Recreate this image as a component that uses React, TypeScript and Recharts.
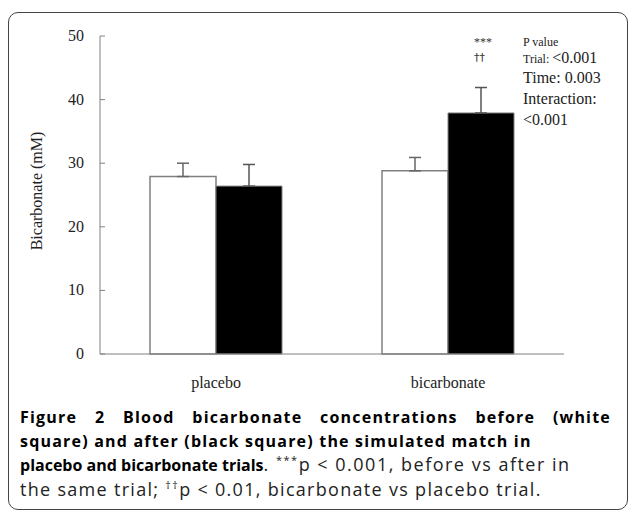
import React from "react";
import { BarChart, Bar, XAxis, YAxis, ErrorBar } from "recharts";

const TRIALS = ["placebo", "bicarbonate"];
const BEFORE = [27.9, 28.8];
const AFTER = [26.4, 37.9];
const BEFORE_ERR = [2.1, 2.1];
const AFTER_ERR = [3.4, 4.0];
const Y_TICKS = [0, 10, 20, 30, 40, 50];

const data = TRIALS.map((t, i) => ({
  trial: t,
  before: BEFORE[i],
  after: AFTER[i],
  beforeErr: [0, BEFORE_ERR[i]],
  afterErr: [0, AFTER_ERR[i]],
}));

const SERIF = "'Liberation Serif', 'Times New Roman', serif";
const SANS = "'Open Sans', 'Noto Sans', sans-serif";

// y ticks in the original point inward, so draw the tick line ourselves
const InnerTick = (props: any) => {
  const { x, y, payload } = props;
  return (
    <g>
      <line x1={x + 16} y1={y} x2={x + 21} y2={y} stroke="#808080" strokeWidth={1} />
      <text x={x} y={y} dy={5} textAnchor="end" fontFamily={SERIF} fontSize={16} fill="#222">
        {payload.value}
      </text>
    </g>
  );
};

const App = () => {
  return (
    <div style={{ position: "absolute", left: 0, top: 0, width: 629, height: 512, background: "#fff", overflow: "hidden" }}>
      <div
        style={{
          position: "absolute",
          left: 8,
          top: 12,
          width: 618,
          height: 496,
          border: "1px solid #444",
          borderRadius: 10,
        }}
      />
      <div style={{ position: "absolute", left: 0, top: 0 }}>
        <BarChart
          width={629}
          height={400}
          data={data}
          margin={{ top: 36, right: 65, bottom: 6, left: 0 }}
          barGap={0}
        >
          <YAxis
            width={100}
            domain={[0, 50]}
            ticks={Y_TICKS}
            interval={0}
            tickSize={0}
            tickMargin={16}
            tickLine={false}
            axisLine={{ stroke: "#808080" }}
            tick={<InnerTick />}
            label={{
              value: "Bicarbonate (mM)",
              angle: -90,
              position: "insideLeft",
              offset: 36,
              dy: -4,
              style: { fontFamily: SERIF, fontSize: 16, fill: "#222", textAnchor: "middle" },
            }}
          />
          <XAxis
            dataKey="trial"
            height={40}
            tickLine={false}
            axisLine={{ stroke: "#808080" }}
            tickMargin={17}
            tick={{ fontFamily: SERIF, fontSize: 16, fill: "#222" }}
          />
          <Bar dataKey="before" fill="#fff" stroke="#808080" strokeWidth={1.5} barSize={66} isAnimationActive={false}>
            <ErrorBar dataKey="beforeErr" direction="y" width={6} stroke="#666" strokeWidth={1.5} />
          </Bar>
          <Bar dataKey="after" fill="#000" stroke="#808080" strokeWidth={1} barSize={66} isAnimationActive={false}>
            <ErrorBar dataKey="afterErr" direction="y" width={6} stroke="#555" strokeWidth={1.5} />
          </Bar>
        </BarChart>
      </div>

      <div style={{ position: "absolute", left: 474, top: 35, fontFamily: SERIF, fontSize: 12, color: "#333", lineHeight: "15px" }}>
        <div>***</div>
        <div style={{ color: "#333", fontFamily: "'DejaVu Sans', sans-serif", fontSize: 11 }}>††</div>
      </div>
      <div style={{ position: "absolute", left: 523, top: 35, fontFamily: SERIF, color: "#222" }}>
        <div style={{ fontSize: 12, lineHeight: "15px" }}>P value</div>
        <div style={{ fontSize: 12, lineHeight: "16px" }}>
          Trial: <span style={{ fontSize: 16 }}>&lt;0.001</span>
        </div>
        <div style={{ fontSize: 16, lineHeight: "21px" }}>Time: 0.003</div>
        <div style={{ fontSize: 16, lineHeight: "21px" }}>Interaction:</div>
        <div style={{ fontSize: 16, lineHeight: "21px" }}>&lt;0.001</div>
      </div>

      <div style={{ position: "absolute", left: 20, top: 406, width: 591, fontFamily: SANS, fontSize: 16, lineHeight: "23.7px", color: "#222", whiteSpace: "nowrap" }}>
        <div style={{ fontWeight: 700, color: "#000", letterSpacing: 1.2, textAlign: "justify", textAlignLast: "justify", whiteSpace: "normal" }}>
          Figure 2 Blood bicarbonate concentrations before (white
        </div>
        <div style={{ fontWeight: 700, color: "#000", letterSpacing: 1.2 }}>square) and after (black square) the simulated match in</div>
        <div>
          <span style={{ fontWeight: 700, color: "#000" }}>placebo and bicarbonate trials</span>
          <span style={{ fontSize: 18, letterSpacing: 1.5 }}>
            . <sup style={{ fontSize: 11, lineHeight: 0 }}>***</sup>p &lt; 0.001, before vs after in
          </span>
        </div>
        <div style={{ fontSize: 18, letterSpacing: 1.3 }}>
          the same trial; <sup style={{ fontSize: 11, lineHeight: 0 }}>††</sup>p &lt; 0.01, bicarbonate vs placebo trial.
        </div>
      </div>
    </div>
  );
};

export default App;
